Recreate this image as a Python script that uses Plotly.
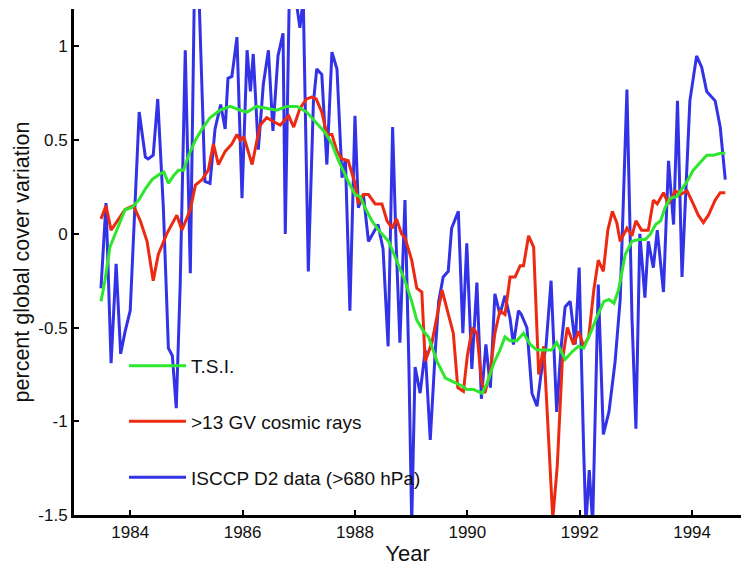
import plotly.graph_objects as go

# ---- data ----
isccp_year = [1983.48, 1983.57, 1983.66, 1983.75, 1983.83, 1983.91, 1984.00, 1984.16, 1984.27, 1984.32,
              1984.41, 1984.49, 1984.59, 1984.68, 1984.75, 1984.82, 1984.89, 1984.98, 1985.07, 1985.14,
              1985.23, 1985.33, 1985.42, 1985.51, 1985.61, 1985.69, 1985.74, 1985.81, 1985.90, 1985.99,
              1986.08, 1986.14, 1986.19, 1986.28, 1986.37, 1986.46, 1986.54, 1986.63, 1986.72, 1986.76,
              1986.83, 1986.90, 1986.95, 1987.02, 1987.08, 1987.17, 1987.26, 1987.32, 1987.41, 1987.50,
              1987.59, 1987.68, 1987.77, 1987.83, 1987.91, 1988.00, 1988.06, 1988.15, 1988.24, 1988.32,
              1988.41, 1988.50, 1988.59, 1988.67, 1988.73, 1988.80, 1988.89, 1988.96, 1989.01, 1989.07,
              1989.16, 1989.25, 1989.34, 1989.43, 1989.49, 1989.57, 1989.66, 1989.72, 1989.84, 1989.92,
              1989.99, 1990.08, 1990.17, 1990.25, 1990.33, 1990.41, 1990.49, 1990.58, 1990.67, 1990.76,
              1990.82, 1990.91, 1990.96, 1991.06, 1991.15, 1991.24, 1991.31, 1991.40, 1991.49, 1991.59,
              1991.67, 1991.74, 1991.83, 1991.92, 1991.99, 1992.07, 1992.11, 1992.17, 1992.23, 1992.33,
              1992.42, 1992.52, 1992.63, 1992.72, 1992.84, 1992.93, 1993.00, 1993.07, 1993.16, 1993.22,
              1993.31, 1993.38, 1993.49, 1993.58, 1993.67, 1993.74, 1993.82, 1993.96, 1994.08, 1994.17,
              1994.26, 1994.41, 1994.50, 1994.59]
isccp_val = [-0.29, 0.165, -0.69, -0.16, -0.64, -0.52, -0.41, 0.65, 0.41, 0.40,
             0.42, 0.72, 0.14, -0.61, -0.65, -0.93, -0.27, 0.98, -0.21, 1.25,
             1.22, 0.28, 0.27, 0.56, 0.69, 0.56, 0.83, 0.84, 1.05, 0.19,
             0.98, 0.76, 0.96, 0.45, 0.80, 0.98, 0.55, 0.95, 1.07, 0.00,
             1.25, 1.30, 1.25, 1.10, 1.25, -0.20, 0.70, 0.88, 0.85, 0.37,
             0.97, 0.88, 0.30, 0.40, -0.41, 0.63, 0.14, 0.21, -0.04, 0.00,
             0.05, -0.08, -0.60, 0.57, -0.03, -0.58, 0.18, -0.70, -1.55, -0.71,
             -0.85, -0.62, -1.10, -0.62, -0.36, -0.23, -0.20, 0.03, 0.12, -0.53,
             -0.05, -0.72, -0.26, -0.88, -0.59, -0.82, -0.32, -0.43, -0.33, -0.45,
             -0.59, -0.41, -0.43, -0.50, -0.85, -0.92, -0.75, -0.60, -0.25, -0.95,
             -0.60, -0.39, -0.36, -0.59, -0.18, -1.15, -1.55, -1.26, -1.55, -0.27,
             -1.07, -0.95, -0.68, -0.35, 0.77, -0.45, -1.04, 0.00, -0.34, -0.04,
             -0.18, 0.02, -0.31, 0.39, 0.05, 0.71, -0.23, 0.71, 0.95, 0.89,
             0.76, 0.71, 0.57, 0.29]

cosmic_year = [1983.48, 1983.57, 1983.66, 1983.79, 1983.91, 1984.06, 1984.18, 1984.30, 1984.41, 1984.50,
               1984.65, 1984.83, 1984.92, 1985.07, 1985.16, 1985.28, 1985.39, 1985.48, 1985.57, 1985.69,
               1985.81, 1985.90, 1985.96, 1986.02, 1986.17, 1986.31, 1986.43, 1986.55, 1986.67, 1986.82,
               1986.91, 1987.02, 1987.14, 1987.23, 1987.31, 1987.41, 1987.50, 1987.59, 1987.68, 1987.77,
               1987.88, 1988.00, 1988.06, 1988.15, 1988.24, 1988.36, 1988.48, 1988.57, 1988.66, 1988.74,
               1988.83, 1988.89, 1989.01, 1989.10, 1989.19, 1989.25, 1989.37, 1989.55, 1989.65, 1989.75,
               1989.83, 1989.93, 1990.00, 1990.09, 1990.17, 1990.25, 1990.31, 1990.40, 1990.49, 1990.58,
               1990.67, 1990.76, 1990.85, 1990.94, 1991.00, 1991.09, 1991.18, 1991.27, 1991.36, 1991.44,
               1991.52, 1991.60, 1991.69, 1991.78, 1991.89, 1991.98, 1992.07, 1992.16, 1992.25, 1992.33,
               1992.42, 1992.50, 1992.58, 1992.66, 1992.72, 1992.84, 1992.93, 1993.00, 1993.10, 1993.22,
               1993.31, 1993.38, 1993.49, 1993.58, 1993.70, 1993.79, 1993.91, 1994.02, 1994.11, 1994.20,
               1994.29, 1994.41, 1994.50, 1994.59]
cosmic_val = [0.08, 0.15, 0.02, 0.08, 0.13, 0.15, 0.07, -0.04, -0.25, -0.11,
              0.00, 0.10, 0.02, 0.13, 0.26, 0.29, 0.34, 0.48, 0.37, 0.44,
              0.48, 0.53, 0.50, 0.52, 0.37, 0.58, 0.62, 0.60, 0.58, 0.63,
              0.57, 0.67, 0.72, 0.73, 0.72, 0.65, 0.53, 0.53, 0.44, 0.40,
              0.39, 0.27, 0.16, 0.21, 0.21, 0.16, 0.16, 0.07, 0.03, 0.08,
              0.00, -0.02, -0.14, -0.29, -0.31, -0.68, -0.58, -0.30, -0.41, -0.53,
              -0.82, -0.84, -0.65, -0.50, -0.53, -0.78, -0.85, -0.75, -0.53, -0.41,
              -0.43, -0.23, -0.23, -0.17, -0.17, -0.01, -0.07, -0.75, -0.60, -1.07,
              -1.52, -1.24, -0.68, -0.50, -0.59, -0.52, -0.60, -0.55, -0.30, -0.14,
              -0.20, 0.02, 0.12, 0.06, -0.04, 0.03, -0.01, 0.07, 0.02, 0.02,
              0.18, 0.16, 0.22, 0.16, 0.23, 0.21, 0.23, 0.16, 0.10, 0.06,
              0.10, 0.18, 0.22, 0.22]

tsi_year = [1983.48, 1983.55, 1983.64, 1983.73, 1983.82, 1983.91, 1984.03, 1984.15, 1984.27, 1984.39,
            1984.53, 1984.60, 1984.68, 1984.77, 1984.86, 1984.95, 1985.04, 1985.16, 1985.28, 1985.42,
            1985.60, 1985.78, 1985.96, 1986.08, 1986.25, 1986.43, 1986.61, 1986.79, 1986.97, 1987.14,
            1987.29, 1987.47, 1987.59, 1987.71, 1987.88, 1988.00, 1988.09, 1988.18, 1988.30, 1988.42,
            1988.60, 1988.72, 1988.89, 1989.01, 1989.10, 1989.22, 1989.31, 1989.46, 1989.61, 1989.75,
            1989.90, 1989.99, 1990.11, 1990.26, 1990.35, 1990.47, 1990.58, 1990.67, 1990.76, 1990.88,
            1991.00, 1991.12, 1991.24, 1991.36, 1991.50, 1991.59, 1991.74, 1991.86, 1991.98, 1992.07,
            1992.19, 1992.31, 1992.43, 1992.52, 1992.61, 1992.69, 1992.81, 1992.93, 1993.05, 1993.17,
            1993.26, 1993.35, 1993.44, 1993.52, 1993.61, 1993.73, 1993.82, 1993.91, 1994.02, 1994.14,
            1994.26, 1994.38, 1994.50, 1994.59]
tsi_val = [-0.36, -0.25, -0.07, 0.00, 0.07, 0.13, 0.14, 0.18, 0.24, 0.29,
           0.32, 0.33, 0.27, 0.31, 0.34, 0.34, 0.42, 0.50, 0.56, 0.62,
           0.66, 0.68, 0.66, 0.65, 0.68, 0.67, 0.66, 0.68, 0.68, 0.65,
           0.60, 0.54, 0.48, 0.39, 0.28, 0.21, 0.20, 0.14, 0.07, 0.02,
           -0.04, -0.13, -0.25, -0.36, -0.46, -0.52, -0.55, -0.68, -0.77, -0.79,
           -0.81, -0.83, -0.83, -0.85, -0.80, -0.69, -0.62, -0.55, -0.57, -0.57,
           -0.53, -0.59, -0.62, -0.62, -0.62, -0.58, -0.67, -0.63, -0.60, -0.61,
           -0.53, -0.44, -0.36, -0.35, -0.37, -0.30, -0.11, -0.04, -0.03, -0.03,
           0.00, 0.05, 0.07, 0.14, 0.19, 0.20, 0.24, 0.28, 0.34, 0.38,
           0.42, 0.42, 0.43, 0.43]

series_names = ["T.S.I.", ">13 GV cosmic rays", "ISCCP D2 data (>680 hPa)"]
x_ticks = [1984, 1986, 1988, 1990, 1992, 1994]
y_ticks = [-1.5, -1, -0.5, 0, 0.5, 1]
y_tick_text = ["-1.5", "-1", "-0.5", "0", "0.5", "1"]

BLUE = "#3232e6"
RED = "#ec2a12"
GREEN = "#2ee62e"
FONT = "Arial, Liberation Sans, sans-serif"

fig = go.Figure()
fig.add_trace(go.Scatter(x=isccp_year, y=isccp_val, mode="lines", name=series_names[2],
                         line=dict(color=BLUE, width=3), legend="legend3"))
fig.add_trace(go.Scatter(x=cosmic_year, y=cosmic_val, mode="lines", name=series_names[1],
                         line=dict(color=RED, width=3), legend="legend2"))
fig.add_trace(go.Scatter(x=tsi_year, y=tsi_val, mode="lines", name=series_names[0],
                         line=dict(color=GREEN, width=3), legend="legend"))

leg_common = dict(font=dict(family=FONT, size=19, color="#111"), bgcolor="rgba(0,0,0,0)",
                  xanchor="left", yanchor="middle", itemwidth=57, borderwidth=0)
fig.update_layout(
    width=741, height=570,
    margin=dict(l=74, r=0, t=9, b=55),
    paper_bgcolor="white", plot_bgcolor="white",
    font=dict(family=FONT, size=16, color="#111"),
    showlegend=True,
    legend=dict(x=0.075, y=(-0.705 + 1.5) / 2.7, **leg_common),
    legend2=dict(x=0.075, y=(-1.0 + 1.5) / 2.7, **leg_common),
    legend3=dict(x=0.075, y=(-1.3 + 1.5) / 2.7, **leg_common),
    xaxis=dict(range=[1983, 1994.87], tickvals=x_ticks, ticks="inside", ticklen=5, tickwidth=2,
               tickcolor="black", showline=True, linecolor="black", linewidth=3, showgrid=False,
               zeroline=False, tickfont=dict(size=17),
               title=dict(text="Year", font=dict(size=22), standoff=5)),
    yaxis=dict(range=[-1.5, 1.2], tickvals=y_ticks, ticktext=y_tick_text, ticks="inside", ticklen=5,
               tickwidth=2, tickcolor="black", showline=True, linecolor="black", linewidth=3,
               showgrid=False, zeroline=False, tickfont=dict(size=17),
               title=dict(text="percent global cover variation", font=dict(size=21.5), standoff=3)),
)

fig.write_html("out.html")
